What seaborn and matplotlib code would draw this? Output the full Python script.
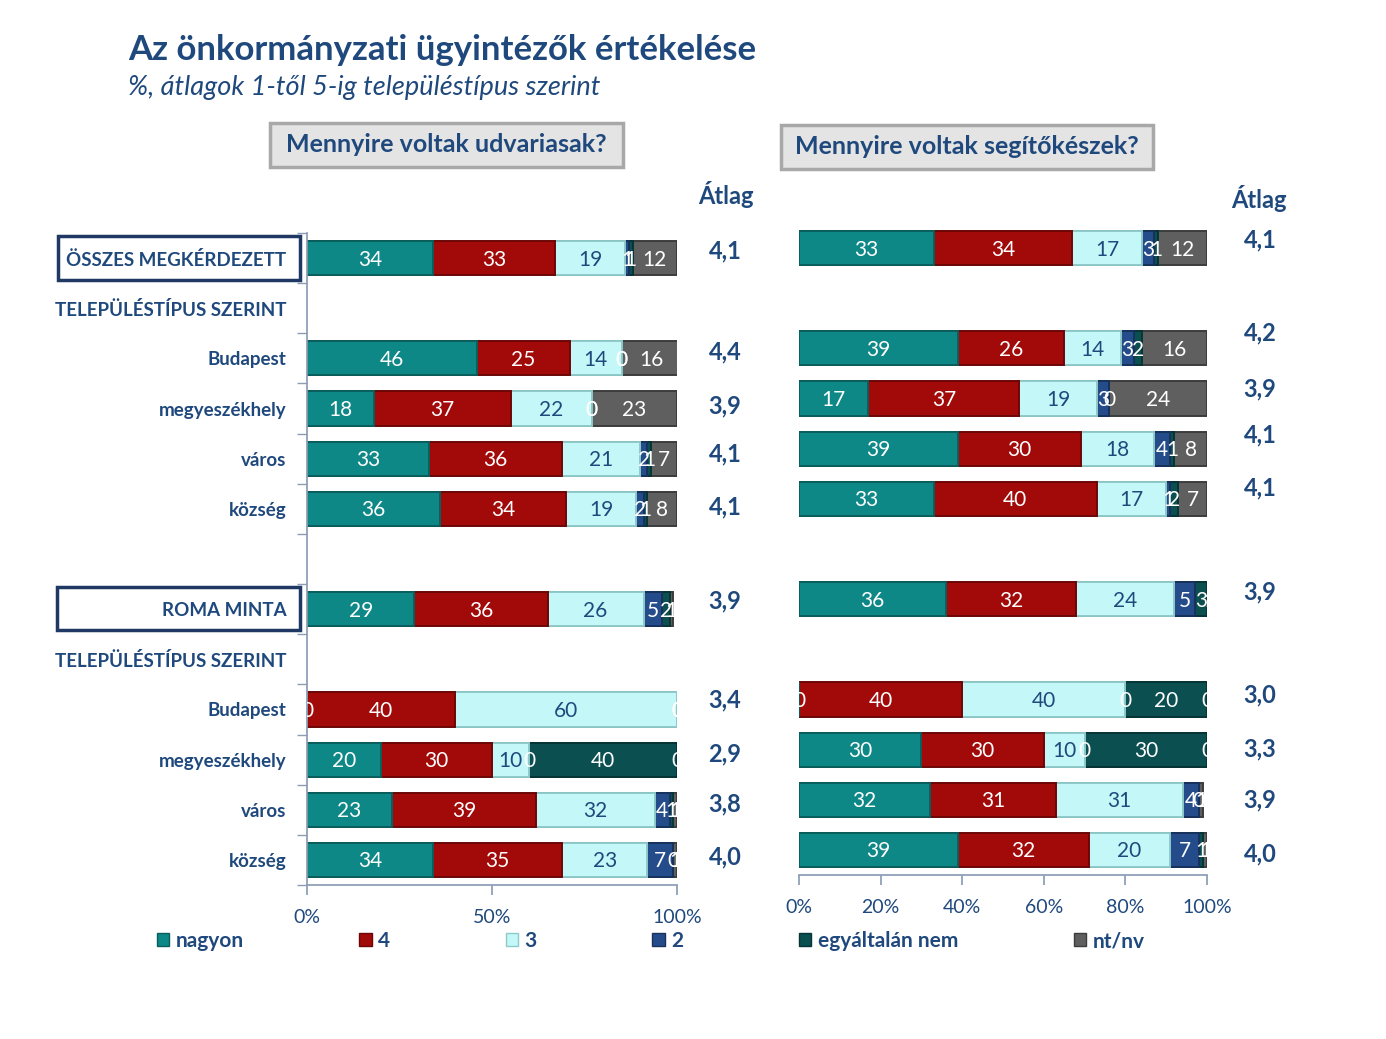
import matplotlib.pyplot as plt
import numpy as np
import pandas as pd
import seaborn as sns
from matplotlib.patches import Patch, Rectangle

# rows of the chart (blank / header slots included, names must be unique)
rows = ["ÖSSZES MEGKÉRDEZETT", "TELEPÜLÉSTÍPUS SZERINT", "Budapest", "megyeszékhely",
        "város", "község", " ", "ROMA MINTA", "TELEPÜLÉSTÍPUS SZERINT ", "Budapest ",
        "megyeszékhely ", "város ", "község "]
data_rows = ["ÖSSZES MEGKÉRDEZETT", "Budapest", "megyeszékhely", "város", "község",
             "ROMA MINTA", "Budapest ", "megyeszékhely ", "város ", "község "]
categories = ["nagyon", "4", "3", "2", "egyáltalán nem", "nt/nv"]

# Mennyire voltak udvariasak?
udv_nagyon = [34, 46, 18, 33, 36, 29, 0, 20, 23, 34]
udv_4 = [33, 25, 37, 36, 34, 36, 40, 30, 39, 35]
udv_3 = [19, 14, 22, 21, 19, 26, 60, 10, 32, 23]
udv_2 = [1, 0, 0, 2, 2, 5, 0, 0, 4, 7]
udv_egy = [1, 0, 0, 1, 1, 2, 0, 40, 1, 0]
udv_nt = [12, 16, 23, 7, 8, 1, 0, 0, 1, 1]
udv_atlag = ["4,1", "4,4", "3,9", "4,1", "4,1", "3,9", "3,4", "2,9", "3,8", "4,0"]

# Mennyire voltak segítőkészek?
seg_nagyon = [33, 39, 17, 39, 33, 36, 0, 30, 32, 39]
seg_4 = [34, 26, 37, 30, 40, 32, 40, 30, 31, 32]
seg_3 = [17, 14, 19, 18, 17, 24, 40, 10, 31, 20]
seg_2 = [3, 3, 3, 4, 1, 5, 0, 0, 4, 7]
seg_egy = [1, 2, 0, 1, 2, 3, 20, 30, 0, 1]
seg_nt = [12, 16, 24, 8, 7, 1, 0, 0, 1, 1]
seg_atlag = ["4,1", "4,2", "3,9", "4,1", "4,1", "3,9", "3,0", "3,3", "3,9", "4,0"]

# vertical nudge of the average labels (in row units, layout only)
udv_atlag_dy = [-0.15, -0.13, -0.05, -0.1, -0.03, -0.17, -0.2, -0.12, -0.12, -0.05]
seg_atlag_dy = [-0.16, -0.3, -0.2, -0.28, -0.22, -0.14, -0.1, -0.02, 0.0, 0.08]

colors = {
    "nagyon": "#0E8787",
    "4": "#A20A0A",
    "3": "#C4F8F8",
    "2": "#254C8A",
    "egyáltalán nem": "#0B4F51",
    "nt/nv": "#5F5F5F",
}
edges = {
    "nagyon": "#0A5E5E",
    "4": "#6E0606",
    "3": "#8FC9C9",
    "2": "#17325C",
    "egyáltalán nem": "#063536",
    "nt/nv": "#3C3C3C",
}
navy = "#1F497D"
spine_col = "#8C9DB5"

sns.set_theme(style="white")
plt.rcParams["font.family"] = ["Lato", "DejaVu Sans"]

fig = plt.figure(figsize=(13.86, 10.39), dpi=100)
W, H = 1386, 1039


def px_axes(x0, y0, x1, y1):
    return fig.add_axes([x0 / W, 1 - y1 / H, (x1 - x0) / W, (y1 - y0) / H])


def draw_panel(ax, parts, averages, avg_dy, xticks, left_labels):
    df = pd.DataFrame(dict(zip(categories, parts)), index=data_rows)
    cum = df.cumsum(axis=1)
    long = cum.reset_index(names="row")
    # stacked bars: draw cumulative totals from the last category backwards
    for cat in reversed(categories):
        sns.barplot(data=long, y="row", x=cat, order=rows, orient="h",
                    color=colors[cat], saturation=1, width=0.68,
                    edgecolor=edges[cat], linewidth=1.4, ax=ax)
    for k, r in enumerate(data_rows):
        yi = rows.index(r)
        for cat in categories:
            v = df.loc[r, cat]
            c = cum.loc[r, cat] - v / 2
            ax.text(c, yi + 0.03, str(v), ha="center", va="center", fontsize=15,
                    color=navy if cat == "3" else "white", clip_on=True)
        ax.text(1.13, yi + avg_dy[k], averages[k], transform=ax.get_yaxis_transform(),
                ha="center", va="center", fontsize=17, fontweight="bold", color=navy)
    ax.set_xlim(0, 100)
    ax.set_ylim(12.5, -0.5)
    ax.set_xlabel("")
    ax.set_ylabel("")
    ax.set_xticks(xticks)
    ax.set_xticklabels([f"{t}%" for t in xticks], color=navy, fontsize=14)
    ax.tick_params(axis="x", direction="out", length=7, color=spine_col, pad=10, bottom=True)
    for s in ["top", "right"]:
        ax.spines[s].set_visible(False)
    ax.spines["bottom"].set_color(spine_col)
    if left_labels:
        ax.set_yticks(range(len(rows)))
        ax.set_yticklabels([r.strip() for r in rows], color=navy, fontsize=13.5, fontweight="bold")
        ax.set_yticks(np.arange(-0.5, len(rows), 1), minor=True)
        ax.tick_params(axis="y", which="major", length=0, pad=15)
        ax.tick_params(axis="y", which="minor", direction="out", length=7, color=spine_col, left=True)
        ax.spines["left"].set_color(spine_col)
    else:
        ax.set_yticks([])
        ax.spines["left"].set_visible(False)


ax1 = px_axes(307, 233, 677, 885)
draw_panel(ax1, [udv_nagyon, udv_4, udv_3, udv_2, udv_egy, udv_nt], udv_atlag, udv_atlag_dy,
           [0, 50, 100], True)
ax2 = px_axes(799, 223, 1207, 875)
draw_panel(ax2, [seg_nagyon, seg_4, seg_3, seg_2, seg_egy, seg_nt], seg_atlag, seg_atlag_dy,
           [0, 20, 40, 60, 80, 100], False)

# titles
fig.text(128 / W, 1 - 50 / H, "Az önkormányzati ügyintézők értékelése", fontsize=25,
         fontweight="bold", color=navy, va="center")
fig.text(128 / W, 1 - 88 / H, "%, átlagok 1-től 5-ig településtípus szerint", fontsize=19.5,
         fontstyle="italic", color=navy, va="center")

# question boxes
for (x0, y0, x1, y1), q in [((270, 123, 623, 167), "Mennyire voltak udvariasak?"),
                            ((781, 125, 1153, 169), "Mennyire voltak segítőkészek?")]:
    fig.patches.append(Rectangle((x0 / W, 1 - y1 / H), (x1 - x0) / W, (y1 - y0) / H,
                                 transform=fig.transFigure, facecolor="#E4E4E4",
                                 edgecolor="#A8A8A8", linewidth=2.5))
    fig.text((x0 + x1) / 2 / W, 1 - (y0 + y1) / 2 / H, q, fontsize=18, fontweight="bold",
             color=navy, ha="center", va="center")

# boxes around the two sample labels
for (x0, y0, x1, y1) in [(58, 236, 300, 280), (57, 587, 300, 630)]:
    fig.patches.append(Rectangle((x0 / W, 1 - y1 / H), (x1 - x0) / W, (y1 - y0) / H,
                                 transform=fig.transFigure, facecolor="none",
                                 edgecolor="#1F3864", linewidth=2.5))

fig.text(726 / W, 1 - 195 / H, "Átlag", fontsize=17, fontweight="bold", color=navy,
         ha="center", va="center")
fig.text(1259 / W, 1 - 198 / H, "Átlag", fontsize=17, fontweight="bold", color=navy,
         ha="center", va="center")

handles = [Patch(facecolor=colors[c], edgecolor=edges[c]) for c in categories]
fig.legend(handles, categories, loc="center left", bbox_to_anchor=(138 / W, 1 - 941 / H),
           ncol=6, frameon=False, handlelength=0.6, handleheight=0.6, handletextpad=0.3,
           columnspacing=5.55, prop={"weight": "bold", "size": 15}, labelcolor=navy)

fig.savefig("out.png", dpi=100)
